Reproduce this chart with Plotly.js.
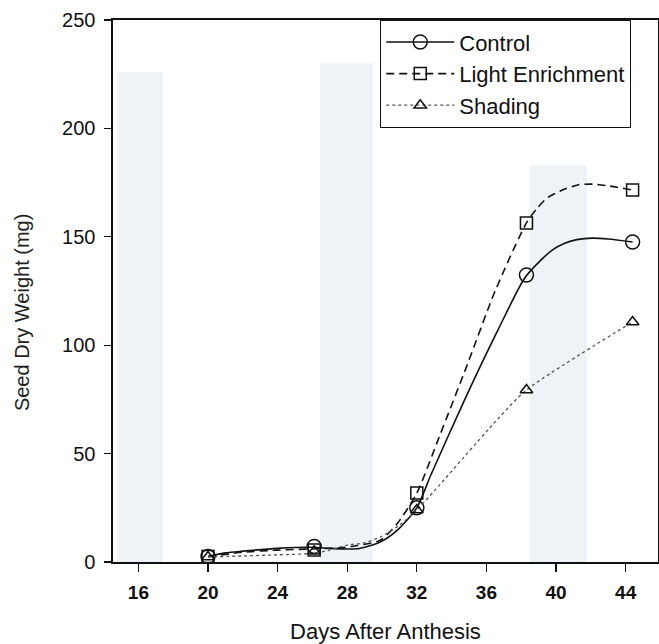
<!DOCTYPE html>
<html>
<head>
<meta charset="utf-8">
<script src="https://cdn.plot.ly/plotly-3.0.1.min.js"></script>
<style>html,body{margin:0;padding:0;background:#fff;}#chart{width:659px;height:644px;}</style>
</head>
<body>
<div id="chart"></div>
<script>
// Measured points (days after anthesis)
var days = [20, 26.1, 32, 38.3, 44.4];
var controlY = [2.5, 7.2, 25, 132.4, 147.6];
var lightY = [2.5, 5.5, 31.8, 156.4, 171.6];
var shadingY = [2.3, 5.0, 24.0, 79.3, 110.7];

// Fitted curves
var controlCurveX = [20, 21, 22, 24, 26, 27, 28, 28.7, 29.9, 30.9, 32, 32.8, 34.7, 36.6, 38.2, 39.1, 39.8, 40.5, 41.2, 42.1, 43, 44.4];
var controlCurveY = [2.5, 4.2, 5.0, 6.3, 6.8, 6.3, 6.0, 6.2, 9.2, 14.8, 25, 40, 74, 106, 131, 139, 144, 147, 148.7, 149.4, 149, 147.6];
var lightCurveX = [20, 22, 24, 26, 27.5, 28.5, 29.9, 30.9, 32, 33.3, 34.9, 36.5, 38.3, 38.9, 39.5, 40.5, 41.3, 42.1, 43, 44.4];
var lightCurveY = [2.5, 4.5, 5.5, 6.0, 6.5, 7.5, 10, 18, 31.8, 58, 91, 125, 156.4, 163, 168, 172, 174, 174.3, 173.5, 171.6];
var shadingCurveX = [20, 22, 24, 26, 27, 28, 28.9, 29.9, 31, 32, 36.6, 38.3, 44.4];
var shadingCurveY = [2.3, 2.8, 3.3, 4.0, 5.5, 7.8, 8.7, 11.5, 17, 24, 65.5, 79.3, 110.7];

var seriesNames = ['Control', 'Light Enrichment', 'Shading'];
var xTicks = [16, 20, 24, 28, 32, 36, 40, 44];
var yTicks = [0, 50, 100, 150, 200, 250];

var FONT = 'Liberation Sans, Arial, sans-serif';
var styles = [
  {dash: 'solid', width: 1.6, color: '#111', symbol: 'circle-open', size: 14},
  {dash: '8px,5px', width: 1.6, color: '#111', symbol: 'square-open', size: 12},
  {dash: 'dot', width: 1.3, color: '#555', symbol: 'triangle-up-open', size: 11}
];
var curves = [[controlCurveX, controlCurveY], [lightCurveX, lightCurveY], [shadingCurveX, shadingCurveY]];
var pts = [controlY, lightY, shadingY];

var traces = [];
for (var i = 0; i < 3; i++) {
  var s = styles[i];
  traces.push({
    x: curves[i][0], y: curves[i][1], type: 'scatter', mode: 'lines',
    line: {color: s.color, width: s.width, dash: s.dash, shape: 'spline', smoothing: 0.7},
    showlegend: false, hoverinfo: 'skip'
  });
  traces.push({
    x: days, y: pts[i], type: 'scatter', mode: 'markers',
    marker: {symbol: s.symbol, size: s.size, color: '#111', line: {width: 1.5, color: '#111'}},
    showlegend: false
  });
}
for (var j = 0; j < 3; j++) {
  var st = styles[j];
  traces.push({
    x: [null], y: [null], type: 'scatter', mode: 'lines+markers', name: seriesNames[j],
    line: {color: st.color, width: st.width, dash: st.dash},
    marker: {symbol: st.symbol, size: st.size, color: '#111', line: {width: 1.5, color: '#111'}}
  });
}

var bandColor = '#edf3f6';
var layout = {
  width: 659, height: 644,
  margin: {l: 113, r: 1, t: 20, b: 82},
  paper_bgcolor: '#fff', plot_bgcolor: '#fff',
  font: {family: FONT, color: '#111'},
  showlegend: true,
  legend: {
    x: 0.49, y: 1, xanchor: 'left', yanchor: 'top',
    bordercolor: '#111', borderwidth: 1.2, bgcolor: '#fff',
    font: {family: FONT, size: 22, color: '#111'},
    itemwidth: 68, tracegroupgap: 0,
    entrywidth: 272, entrywidthmode: 'pixels'
  },
  xaxis: {
    range: [14.54, 45.86], tickvals: xTicks, ticktext: xTicks.map(String),
    showline: true, linecolor: '#111', linewidth: 1.6, mirror: true,
    ticks: 'outside', ticklen: 8, tickwidth: 1.3, tickcolor: '#111',
    showgrid: false, zeroline: false, ticklabelstandoff: 5,
    tickfont: {family: FONT, size: 19, color: '#111', weight: 'bold'},
    title: {text: 'Days After Anthesis', font: {family: FONT, size: 22, color: '#111'}, standoff: 24}
  },
  yaxis: {
    range: [0, 250], tickvals: yTicks, ticktext: yTicks.map(String),
    showline: true, linecolor: '#111', linewidth: 1.6, mirror: true,
    ticks: 'outside', ticklen: 7, tickwidth: 1.3, tickcolor: '#111',
    showgrid: false, zeroline: false, ticklabelstandoff: 5,
    tickfont: {family: FONT, size: 20, color: '#111'}
  },
  annotations: [
    {text: 'Seed Dry Weight (mg)', xref: 'paper', yref: 'paper', x: -0.167, y: 0.461,
     xanchor: 'center', yanchor: 'middle', textangle: -90, showarrow: false,
     font: {family: FONT, size: 20, color: '#222'}}
  ],
  shapes: [
    {type: 'rect', xref: 'x', yref: 'y', x0: 14.77, x1: 17.41, y0: 0, y1: 226, fillcolor: bandColor, line: {width: 0}, layer: 'below'},
    {type: 'rect', xref: 'x', yref: 'y', x0: 26.44, x1: 29.48, y0: 0, y1: 230, fillcolor: bandColor, line: {width: 0}, layer: 'below'},
    {type: 'rect', xref: 'x', yref: 'y', x0: 38.5, x1: 41.78, y0: 0, y1: 183, fillcolor: bandColor, line: {width: 0}, layer: 'below'}
  ]
};

Plotly.newPlot('chart', traces, layout, {displayModeBar: false, staticPlot: true});
</script>
</body>
</html>
